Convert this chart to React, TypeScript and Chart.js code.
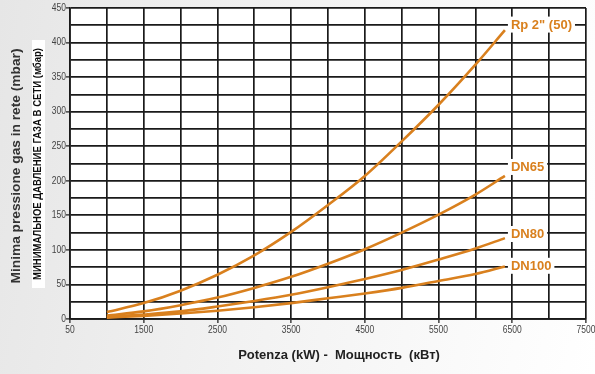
import { useEffect, useRef } from 'react';
import { Chart, registerables } from 'chart.js';

Chart.register(...registerables);

// Potenza (kW)
const X_VALUES = [1000, 1500, 2000, 2500, 3000, 3500, 4000, 4500, 5000, 5500, 6000, 6400];
// Minima pressione (mbar)
const RP2_50 = [10, 23, 41, 64, 92, 126, 165, 207, 257, 310, 368, 418];
const DN65 = [5, 11, 20, 31, 45, 61, 80, 101, 125, 151, 180, 207];
const DN80 = [3, 6.5, 11, 18, 26, 35, 46, 58, 71, 86, 102, 117];
const DN100 = [2, 4.5, 8, 12, 17, 23, 30, 37, 45, 55, 65, 76];

const SERIES_NAMES = ['Rp 2" (50)', 'DN65', 'DN80', 'DN100'];
const SERIES_VALUES = [RP2_50, DN65, DN80, DN100];
const LABEL_LEVELS = [426, 220, 123, 77];

const X_MIN = 500;
const X_MAX = 7500;
const X_STEP = 500;
const Y_MIN = 0;
const Y_MAX = 450;
const Y_STEP = 25;

const X_TICK_VALUES = [500, 1500, 2500, 3500, 4500, 5500, 6500, 7500];
const X_TICK_LABELS = ['50', '1500', '2500', '3500', '4500', '5500', '6500', '7500'];
const Y_TICK_VALUES = [0, 50, 100, 150, 200, 250, 300, 350, 400, 450];

const Y_TITLE_IT = 'Minima pressione gas in rete (mbar)';
const Y_TITLE_RU = 'МИНИМАЛЬНОЕ ДАВЛЕНИЕ ГАЗА В СЕТИ (мбар)';
const X_TITLE = 'Potenza (kW) -  Мощность  (кВт)';

const ORANGE = '#d9801e';
const GRID = '#1a1a1a';
const SANS = '"Liberation Sans", Arial, sans-serif';

function narrowText(ctx: any, text: string, x: number, y: number, align: 'left' | 'right' | 'center', squeeze: number) {
  ctx.save();
  ctx.translate(x, y);
  ctx.scale(squeeze, 1);
  ctx.textAlign = align;
  ctx.fillText(text, 0, 0);
  ctx.restore();
}

const decorPlugin = {
  id: 'decor',
  beforeDraw(chart: any) {
    const { ctx, chartArea } = chart;
    ctx.save();
    ctx.fillStyle = '#ffffff';
    ctx.fillRect(chartArea.left, chartArea.top, chartArea.right - chartArea.left, chartArea.bottom - chartArea.top);
    // white panel behind russian title
    ctx.fillRect(32, 40, 13, 248);
    ctx.restore();
  },
  afterDatasetsDraw(chart: any) {
    const { ctx } = chart;
    const xs = chart.scales.x;
    const ys = chart.scales.y;
    ctx.save();
    ctx.font = `bold 13px ${SANS}`;
    ctx.textBaseline = 'middle';
    SERIES_NAMES.forEach((name, i) => {
      const px = xs.getPixelForValue(X_VALUES[X_VALUES.length - 1]) + 6;
      const py = ys.getPixelForValue(LABEL_LEVELS[i]);
      const w = ctx.measureText(name).width;
      ctx.fillStyle = '#ffffff';
      ctx.fillRect(px - 3, py - 8, w + 6, 16);
      ctx.fillStyle = ORANGE;
      ctx.textAlign = 'left';
      ctx.fillText(name, px, py + 0.5);
    });
    ctx.restore();
  },
  afterDraw(chart: any) {
    const { ctx, chartArea } = chart;
    const xs = chart.scales.x;
    const ys = chart.scales.y;

    // tick labels (condensed)
    ctx.save();
    ctx.fillStyle = '#444444';
    ctx.font = `10px ${SANS}`;
    ctx.textBaseline = 'middle';
    Y_TICK_VALUES.forEach((v) => {
      narrowText(ctx, String(v), chartArea.left - 4, ys.getPixelForValue(v), 'right', 0.85);
    });
    X_TICK_VALUES.forEach((v, i) => {
      narrowText(ctx, X_TICK_LABELS[i], xs.getPixelForValue(v), chartArea.bottom + 11, 'center', 0.85);
    });
    ctx.restore();

    // Italian Y title
    ctx.save();
    ctx.fillStyle = '#333333';
    ctx.font = `bold 13px ${SANS}`;
    ctx.textAlign = 'center';
    ctx.textBaseline = 'middle';
    ctx.translate(16, 166);
    ctx.rotate(-Math.PI / 2);
    let w = ctx.measureText(Y_TITLE_IT).width;
    ctx.scale(235 / w, 1);
    ctx.fillText(Y_TITLE_IT, 0, 0);
    ctx.restore();

    // Russian Y title
    ctx.save();
    ctx.fillStyle = '#0d0d0d';
    ctx.font = `bold 10.5px ${SANS}`;
    ctx.textAlign = 'center';
    ctx.textBaseline = 'middle';
    ctx.translate(38.5, 164);
    ctx.rotate(-Math.PI / 2);
    w = ctx.measureText(Y_TITLE_RU).width;
    ctx.scale(232 / w, 1);
    ctx.fillText(Y_TITLE_RU, 0, 0);
    ctx.restore();

    // X title
    ctx.save();
    ctx.fillStyle = '#222222';
    ctx.font = `bold 13px ${SANS}`;
    ctx.textAlign = 'center';
    ctx.textBaseline = 'middle';
    ctx.fillText(X_TITLE, (chartArea.left + chartArea.right) / 2 + 11, 355);
    ctx.restore();
  },
};

export default function App() {
  const ref = useRef<HTMLCanvasElement>(null);
  useEffect(() => {
    document.body.style.margin = '0';
    const canvas = ref.current!;
    const chart = new Chart(canvas, {
      type: 'line',
      data: {
        datasets: SERIES_NAMES.map((name, i) => ({
          label: name,
          data: X_VALUES.map((x, j) => ({ x, y: SERIES_VALUES[i][j] })),
          borderColor: ORANGE,
          backgroundColor: ORANGE,
          borderWidth: 2.6,
          pointRadius: 0,
          cubicInterpolationMode: 'monotone' as const,
          fill: false,
        })),
      },
      options: {
        responsive: false,
        animation: false,
        devicePixelRatio: 1,
        layout: { padding: { top: 8, right: 9, left: 0, bottom: 0 } },
        plugins: {
          legend: { display: false },
          tooltip: { enabled: false },
          title: { display: false },
        },
        scales: {
          x: {
            type: 'linear',
            min: X_MIN,
            max: X_MAX,
            afterBuildTicks: (s: any) => {
              const t = [];
              for (let v = X_MIN; v <= X_MAX; v += X_STEP) t.push({ value: v });
              s.ticks = t;
            },
            afterFit: (s: any) => {
              s.height = 55;
              s.paddingLeft = 0;
              s.paddingRight = 0;
            },
            ticks: { display: false, autoSkip: false, maxRotation: 0 },
            grid: {
              color: GRID,
              lineWidth: 1.7,
              tickLength: 4,
              tickColor: (c: any) =>
                c.tick && (Number(c.tick.value) - X_MIN) % 1000 === 0 ? '#555555' : 'rgba(0,0,0,0)',
            },
            border: { color: GRID, width: 1.7 },
          },
          y: {
            type: 'linear',
            min: Y_MIN,
            max: Y_MAX,
            afterBuildTicks: (s: any) => {
              const t = [];
              for (let v = Y_MIN; v <= Y_MAX; v += Y_STEP) t.push({ value: v });
              s.ticks = t;
            },
            afterFit: (s: any) => {
              s.width = 70;
              s.paddingTop = 0;
              s.paddingBottom = 0;
            },
            ticks: { display: false, autoSkip: false },
            grid: {
              color: GRID,
              lineWidth: 1.7,
              tickLength: 4,
              tickColor: (c: any) =>
                c.tick && Number(c.tick.value) % 50 === 0 ? '#555555' : 'rgba(0,0,0,0)',
            },
            border: { color: GRID, width: 1.7 },
          },
        },
      },
      plugins: [decorPlugin],
    } as any);
    return () => chart.destroy();
  }, []);
  return (
    <div
      style={{
        position: 'absolute',
        left: 0,
        top: 0,
        width: 595,
        height: 374,
        background: 'linear-gradient(100deg, #e6e6e6 0%, #f2f2f2 45%, #ffffff 100%)',
      }}
    >
      <canvas ref={ref} width={595} height={374} style={{ display: 'block', width: 595, height: 374 }} />
    </div>
  );
}
